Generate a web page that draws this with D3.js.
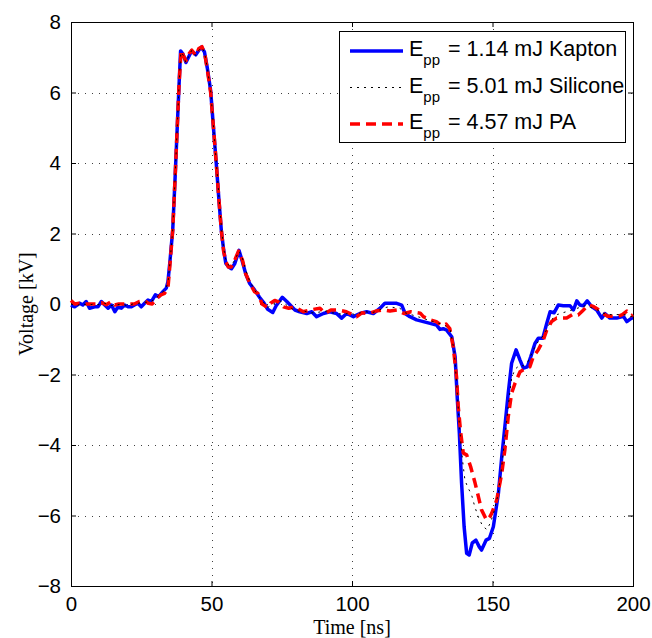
<!DOCTYPE html>
<html>
<head>
<meta charset="utf-8">
<script src="https://cdn.jsdelivr.net/npm/d3@7"></script>
<style>
  body { margin: 0; background: #fff; }
  svg { display: block; }
  .axis text { font-family: "Liberation Sans", Arial, sans-serif; font-size: 20.5px; fill: #000; }
  .axis path { display: none; }
  .axis line { stroke: #000; }
  .label { font-family: "Liberation Serif", "Times New Roman", serif; font-size: 20px; fill: #000; }
  .legend text { font-family: "Liberation Sans", Arial, sans-serif; font-size: 21.5px; fill: #000; }
</style>
</head>
<body>
<div id="chart"></div>
<script>
"use strict"

// [time ns, voltage kV]
const kapton = [
  [0,-0.03],[1.3,-0.08],[3.1,0.02],[4.2,-0.03],[5.4,0.07],[6.6,-0.12],[8.4,-0.08],[9.6,-0.08],
  [10.8,0.07],[12,-0.03],[13.2,-0.12],[14.4,-0.03],[15.6,-0.22],[16.7,-0.08],[17.9,-0.12],[19.1,-0.03],
  [20.3,-0.08],[21.5,-0.08],[22.6,-0.03],[23.8,0.02],[25,-0.08],[26.2,0.02],[27.4,0.11],[28.6,0.07],
  [30,0.26],[31.2,0.21],[32.7,0.35],[33.9,0.45],[34.5,0.63],[35.2,1.2],[36.2,2.1],[37,3.5],
  [37.8,5.0],[38.5,6.3],[39,7.18],[39.8,7.1],[40.9,6.85],[41.8,7.0],[42.9,7.18],[44.4,7.07],
  [45.5,7.2],[46.4,7.29],[47.5,7.15],[48.5,6.7],[49.7,6.05],[50.7,5.0],[51.7,3.98],[52.6,3.0],
  [53.5,2.08],[54.3,1.55],[55.1,1.15],[56.1,1.05],[57.1,1.0],[58.3,1.15],[59.8,1.52],[61,1.2],
  [62.2,0.85],[63.6,0.58],[65.3,0.4],[67.1,0.19],[68.5,0.05],[70,-0.15],[71.8,-0.24],[73,-0.05],
  [75.2,0.19],[76.8,0.07],[78,-0.03],[79.7,-0.17],[81.4,-0.22],[83.9,-0.27],[85.7,-0.22],[87.4,-0.36],
  [89.8,-0.27],[92.1,-0.22],[94.5,-0.27],[96.3,-0.4],[98.1,-0.27],[100.5,-0.36],[102.8,-0.27],[105.2,-0.22],
  [107.6,-0.27],[110,-0.12],[111.7,0.02],[113.5,0.02],[115.9,0.02],[117.7,-0.03],[118.9,-0.27],[120.6,-0.36],
  [123,-0.45],[125.4,-0.5],[127.8,-0.55],[130.1,-0.6],[131.3,-0.72],[132.5,-0.7],[133.7,-0.74],[135.5,-0.93],
  [136.7,-1.5],[137.5,-2.72],[138.2,-3.66],[139,-5.08],[139.9,-6.32],[140.8,-7.07],[141.7,-7.12],[142.8,-6.78],
  [144.1,-6.7],[145.3,-6.89],[146.1,-6.98],[147.7,-6.7],[148.9,-6.65],[150.3,-6.32],[152.1,-5.37],[153.3,-4.33],
  [154.4,-3.48],[155.6,-2.53],[156.8,-1.68],[158.4,-1.3],[159.8,-1.59],[161,-1.82],[162.4,-1.78],[163.6,-1.5],
  [165.1,-1.12],[166.3,-0.97],[167.9,-0.97],[169.3,-0.55],[170.5,-0.22],[171.9,-0.25],[173.4,-0.03],[175.2,-0.05],
  [177.6,-0.05],[178.8,-0.17],[180,0.09],[181.1,-0.03],[182.3,-0.05],[183.7,0.09],[185.3,-0.07],[187.1,-0.17],
  [188.9,-0.4],[190,-0.27],[191.8,-0.4],[194.2,-0.4],[196.6,-0.35],[197.8,-0.5],[199.5,-0.4],[200,-0.4]
];

const silicone = [
  [0,0.0],[2,-0.05],[4,0.02],[6,-0.05],[8,0.0],[10,-0.02],[12,0.02],[14,-0.05],[16,-0.03],[18,0.0],
  [20,-0.05],[22,0.0],[24,0.02],[26,0.05],[28,0.05],[30,0.15],[32,0.3],[33.5,0.4],[34.5,0.6],[35.2,1.15],
  [36.2,2.1],[37,3.5],[37.8,5.0],[38.5,6.3],[39.1,7.15],[40,7.05],[40.9,6.85],[42,7.05],[43,7.2],[44.4,7.05],
  [45.5,7.2],[46.5,7.28],[47.5,7.15],[48.6,6.65],[49.7,6.05],[50.7,5.05],[51.7,4.05],[52.6,3.1],[53.5,2.2],[54.3,1.6],
  [55.1,1.25],[56.1,1.1],[57.1,1.1],[58.3,1.25],[59.8,1.5],[61,1.3],[62.2,0.95],[63.6,0.65],[65.3,0.4],[67,0.2],
  [68.5,0.05],[70,-0.1],[72,0.0],[74,0.1],[75.5,0.05],[77,-0.05],[79,-0.15],[81,-0.2],[83,-0.2],[85,-0.25],
  [87,-0.25],[89,-0.22],[91,-0.2],[93,-0.25],[95,-0.27],[97,-0.3],[99,-0.25],[101,-0.3],[103,-0.25],[105,-0.22],
  [107,-0.25],[109,-0.2],[111,-0.12],[113,-0.08],[115,-0.1],[117,-0.12],[119,-0.25],[121,-0.3],[123,-0.35],[125,-0.4],
  [127,-0.45],[129,-0.5],[131,-0.55],[133,-0.6],[135,-0.75],[136.3,-1.3],[137.2,-2.2],[138,-3.2],[138.8,-4.0],[139.4,-4.48],
  [140.2,-5.0],[141.2,-5.2],[142.5,-5.4],[143.7,-5.75],[145,-6.05],[146.5,-6.3],[148,-6.4],[149.3,-6.2],[150.5,-5.9],[152,-5.4],
  [153.3,-4.6],[154.4,-3.8],[155.6,-2.9],[156.8,-2.1],[158,-1.85],[159.5,-1.75],[161,-1.75],[162.5,-1.65],[164,-1.4],[165.5,-1.15],
  [167,-1.0],[168.5,-0.85],[170,-0.6],[171.5,-0.4],[173,-0.3],[175,-0.25],[177,-0.2],[179,-0.15],[181,-0.1],[183,-0.05],
  [185,-0.1],[187,-0.15],[189,-0.25],[191,-0.3],[193,-0.3],[195,-0.3],[197,-0.3],[199,-0.35],[200,-0.35]
];

const pa = [
  [0,0.1],[1.3,0.0],[3,0.02],[5,0.0],[7,0.0],[9,0.0],[10.8,0.04],[12.5,-0.02],[14.4,0.07],[15.6,-0.03],
  [17,0.0],[19,0.0],[21,0.0],[22.5,0.0],[24.3,0.07],[26.2,0.1],[27.5,0.02],[28.9,0.0],[30.5,0.16],[32,0.26],
  [33.3,0.3],[34.5,0.45],[35.2,1.1],[36.2,2.1],[37,3.5],[37.8,5.0],[38.5,6.3],[39.2,7.2],[40,7.05],[40.9,6.9],
  [42,7.1],[43,7.2],[44.4,7.05],[45.5,7.25],[46.6,7.3],[47.6,7.1],[48.6,6.6],[49.7,6.0],[50.7,5.0],[51.7,4.0],
  [52.6,3.0],[53.5,2.1],[54.3,1.5],[55.1,1.2],[56,1.05],[57,1.05],[58.3,1.25],[59.6,1.5],[61,1.25],[62.2,0.85],
  [63.6,0.6],[65.3,0.35],[66.5,0.3],[68,0.0],[70,-0.1],[71,0.02],[72.5,0.1],[74,0.05],[75.6,-0.08],[77.5,-0.12],
  [79.5,-0.08],[82.7,-0.22],[85,-0.17],[88.6,-0.12],[90.5,-0.27],[92.5,-0.17],[95,-0.17],[98,-0.22],[101.7,-0.36],[103.5,-0.25],
  [106,-0.27],[108.5,-0.2],[111,-0.17],[113.5,-0.2],[116,-0.17],[118.5,-0.27],[121,-0.22],[124.3,-0.26],[125.4,-0.36],[127.8,-0.45],
  [130,-0.5],[132,-0.62],[133.5,-0.57],[134.8,-0.7],[136,-1.2],[137.2,-2.06],[137.8,-2.9],[138.7,-3.66],[139.6,-4.23],[140.8,-4.28],
  [142.2,-4.61],[143.8,-5.08],[145,-5.47],[146.1,-5.84],[147.9,-6.13],[149.1,-6.03],[149.7,-5.94],[151.5,-5.56],[153.3,-4.8],[154.4,-4.14],
  [155.6,-3.2],[156.8,-2.53],[158,-2.25],[159.8,-1.92],[161.9,-1.82],[163.3,-1.78],[164.5,-1.5],[166.3,-1.3],[168.1,-1.02],[169.3,-0.74],
  [171,-0.5],[172.8,-0.4],[174.5,-0.4],[176.4,-0.4],[178.5,-0.3],[180.5,-0.31],[182,-0.2],[184.1,-0.03],[185.9,-0.07],[187.5,-0.15],
  [189.4,-0.27],[191,-0.35],[193,-0.35],[194.6,-0.35],[196.2,-0.3],[197.8,-0.2],[199.5,-0.33],[200,-0.3]
];

const xTicks = [0, 50, 100, 150, 200];
const yTicks = [-8, -6, -4, -2, 0, 2, 4, 6, 8];
const legendEnergy = ["1.14", "5.01", "4.57"];
const legendMaterial = ["Kapton", "Silicone", "PA"];

// Figure layout
const figWidth = 652;
const figHeight = 638;
const margin = {top: 22, left: 71, right: 19, bottom: 52};
const width = figWidth - margin.left - margin.right;
const height = figHeight - margin.top - margin.bottom;

const svg = d3.select("#chart").append("svg")
  .attr("width", figWidth)
  .attr("height", figHeight);

const plot = svg.append("g")
  .attr("transform", translate(margin.left, margin.top));

const xScale = d3.scaleLinear().domain([0, 200]).range([0, width]);
const yScale = d3.scaleLinear().domain([-8, 8]).range([height, 0]);

// Dotted grid
const grid = plot.append("g")
  .attr("stroke", "#000")
  .attr("stroke-opacity", 0.75)
  .attr("stroke-width", 1)
  .attr("stroke-dasharray", "1,6");

grid.selectAll(".gx")
  .data(xTicks.slice(1, -1))
  .enter().append("line")
    .attr("x1", d => Math.round(xScale(d)) + 0.5)
    .attr("x2", d => Math.round(xScale(d)) + 0.5)
    .attr("y1", 0)
    .attr("y2", height);

grid.selectAll(".gy")
  .data(yTicks.slice(1, -1))
  .enter().append("line")
    .attr("y1", d => Math.round(yScale(d)) + 0.5)
    .attr("y2", d => Math.round(yScale(d)) + 0.5)
    .attr("x1", 0)
    .attr("x2", width);

// Axes with inward ticks
plot.append("g")
  .attr("class", "axis")
  .attr("transform", translate(0, height))
  .call(d3.axisBottom(xScale).tickValues(xTicks).tickSizeInner(-5).tickSizeOuter(0).tickPadding(10));

plot.append("g")
  .attr("class", "axis")
  .call(d3.axisTop(xScale).tickValues(xTicks).tickSizeInner(-5).tickSizeOuter(0).tickFormat(""));

plot.append("g")
  .attr("class", "axis")
  .call(d3.axisLeft(yScale).tickValues(yTicks).tickSizeInner(-5).tickSizeOuter(0).tickPadding(10));

plot.append("g")
  .attr("class", "axis")
  .attr("transform", translate(width, 0))
  .call(d3.axisRight(yScale).tickValues(yTicks).tickSizeInner(-5).tickSizeOuter(0).tickFormat(""));

// Box
plot.append("rect")
  .attr("x", 0.5)
  .attr("y", 0.5)
  .attr("width", width)
  .attr("height", height)
  .attr("fill", "none")
  .attr("stroke", "#000");

// Series
const line = d3.line()
  .x(d => xScale(d[0]))
  .y(d => yScale(d[1]));

const series = [
  {data: kapton, color: "#0000ff", width: 3.5, dash: null},
  {data: pa, color: "#ff0000", width: 3.5, dash: "10,6"},
  {data: silicone, color: "#000", width: 1, dash: "2,5"}
];

plot.selectAll(".series")
  .data(series)
  .enter().append("path")
    .attr("class", "series")
    .attr("d", d => line(d.data))
    .attr("fill", "none")
    .attr("stroke", d => d.color)
    .attr("stroke-width", d => d.width)
    .attr("stroke-dasharray", d => d.dash)
    .attr("stroke-linejoin", "round");

// Axis labels
svg.append("text")
  .attr("class", "label")
  .attr("x", margin.left + width / 2)
  .attr("y", 634)
  .attr("text-anchor", "middle")
  .text("Time [ns]");

svg.append("text")
  .attr("class", "label")
  .attr("transform", `translate(33, ${margin.top + height / 2}) rotate(-90)`)
  .attr("text-anchor", "middle")
  .text("Voltage [kV]");

// Legend
const legendStyles = [series[0], series[2], series[1]];
const legend = svg.append("g").attr("class", "legend");

legend.append("rect")
  .attr("x", 339.5)
  .attr("y", 31.5)
  .attr("width", 286)
  .attr("height", 111)
  .attr("fill", "#fff")
  .attr("stroke", "#000");

const rows = legend.selectAll(".row")
  .data(legendEnergy.map((e, i) => ({energy: e, material: legendMaterial[i], style: legendStyles[i]})))
  .enter().append("g")
    .attr("transform", (d, i) => translate(0, 51 + i * 36.5));

rows.append("line")
  .attr("x1", 350)
  .attr("x2", 403)
  .attr("stroke", d => d.style.color)
  .attr("stroke-width", d => d.style.width)
  .attr("stroke-dasharray", d => d.style.dash);

const label = rows.append("text")
  .attr("x", 409)
  .attr("y", 5);
label.append("tspan").text("E");
label.append("tspan")
  .attr("dy", 9)
  .style("font-size", "15px")
  .text("pp");
label.append("tspan")
  .attr("x", 442)
  .attr("dy", -9)
  .text(d => ` = ${d.energy} mJ ${d.material}`);

function translate(x, y) {
  return `translate(${x}, ${y})`;
}
</script>
</body>
</html>
